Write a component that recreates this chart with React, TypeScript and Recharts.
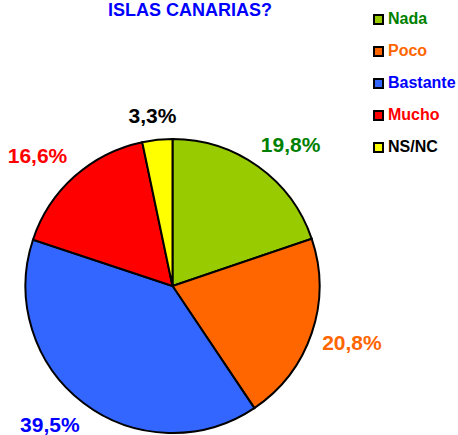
import React from 'react';
import { PieChart, Pie, Cell, Legend } from 'recharts';

const categories = ['Nada', 'Poco', 'Bastante', 'Mucho', 'NS/NC'];
const values = [19.8, 20.8, 39.5, 16.6, 3.3];
const sliceColors = ['#99CC00', '#FF6600', '#3366FF', '#FF0000', '#FFFF00'];
const textColors = ['#008000', '#FF6600', '#0000FF', '#FF0000', '#000000'];
const title = 'ISLAS CANARIAS?';

const data = categories.map((name, i) => ({ name, value: values[i] }));

const RAD = Math.PI / 180;
const LABEL_SIZE = 21;
const FONT = "'Liberation Sans', Arial, sans-serif";

const fmt = (v: number) => v.toFixed(1).replace('.', ',') + '%';

// rough bold Arial width, enough to push the label box clear of the rim
const textWidth = (s: string) =>
  s.split('').reduce((w, ch) => w + (ch === ',' ? 0.278 : ch === '%' ? 0.889 : 0.556), 0) * LABEL_SIZE;

const clamp = (v: number) => Math.max(-1, Math.min(1, v));

const renderLabel = (props: any) => {
  const { cx, cy, midAngle, outerRadius, index, value } = props;
  const text = fmt(value);
  const ux = Math.cos(-midAngle * RAD);
  const uy = Math.sin(-midAngle * RAD);
  const r = outerRadius + 11;
  const x = cx + r * ux + (textWidth(text) / 2) * clamp(ux * 1.5);
  const y = cy + r * uy + 13 * clamp(uy * 1.5);
  return (
    <text
      x={x}
      y={y}
      fill={textColors[index]}
      textAnchor="middle"
      dominantBaseline="central"
      fontSize={LABEL_SIZE}
      fontWeight="bold"
      fontFamily={FONT}
    >
      {text}
    </text>
  );
};

const renderLegend = () => (
  <div style={{ fontFamily: FONT, fontWeight: 'bold', fontSize: 16 }}>
    {categories.map((c, i) => (
      <div key={c} style={{ display: 'flex', alignItems: 'center', height: 32 }}>
        <span
          style={{
            display: 'inline-block',
            width: 7,
            height: 7,
            border: '2px solid #000',
            background: sliceColors[i],
            marginRight: 4,
          }}
        />
        <span style={{ color: textColors[i] }}>{c}</span>
      </div>
    ))}
  </div>
);

export default function App() {
  return (
    <div style={{ position: 'absolute', left: 0, top: 0, width: 458, height: 435, background: '#fff', overflow: 'hidden' }}>
      <div
        style={{
          position: 'absolute',
          left: 108,
          top: 0,
          color: '#0000FF',
          fontFamily: FONT,
          fontWeight: 'bold',
          fontSize: 18,
          whiteSpace: 'nowrap',
        }}
      >
        {title}
      </div>
      <PieChart width={458} height={435} margin={{ top: 0, right: 0, bottom: 0, left: 0 }}>
        <Pie
          data={data}
          dataKey="value"
          nameKey="name"
          cx={172.5}
          cy={286}
          outerRadius={147}
          startAngle={90}
          endAngle={-270}
          stroke="#000"
          strokeWidth={2}
          label={renderLabel}
          labelLine={false}
          isAnimationActive={false}
        >
          {data.map((d, i) => (
            <Cell key={d.name} fill={sliceColors[i]} />
          ))}
        </Pie>
        <Legend
          content={renderLegend}
          wrapperStyle={{ position: 'absolute', left: 373, top: 3, width: 85 }}
        />
      </PieChart>
    </div>
  );
}
